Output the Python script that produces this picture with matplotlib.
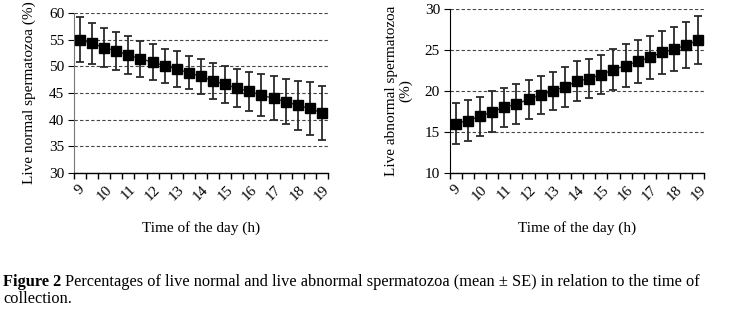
import matplotlib

matplotlib.use("Agg")
import matplotlib.pyplot as plt
import numpy as np
from matplotlib.ticker import FixedLocator

plt.rcParams["font.family"] = ["Liberation Serif", "DejaVu Serif"]

# Time of collection (h), half-hour steps
times = [9, 9.5, 10, 10.5, 11, 11.5, 12, 12.5, 13, 13.5, 14,
         14.5, 15, 15.5, 16, 16.5, 17, 17.5, 18, 18.5, 19]
tick_labels = ["9", "10", "11", "12", "13", "14", "15", "16", "17", "18", "19"]

# Live normal spermatozoa (%), mean and SE
normal_mean = [55.0, 54.3, 53.5, 52.9, 52.1, 51.4, 50.8, 50.1, 49.5, 48.8, 48.1,
               47.3, 46.6, 45.9, 45.3, 44.6, 44.0, 43.4, 42.7, 42.1, 41.3]
normal_se = [4.2, 3.9, 3.7, 3.6, 3.5, 3.4, 3.3, 3.2, 3.3, 3.1, 3.3,
             3.4, 3.5, 3.6, 3.7, 4.0, 4.1, 4.3, 4.6, 4.9, 5.1]

# Live abnormal spermatozoa (%), mean and SE
abnormal_mean = [16.0, 16.4, 16.9, 17.5, 18.0, 18.4, 19.0, 19.5, 20.0, 20.5, 21.2,
                 21.5, 22.0, 22.6, 23.1, 23.6, 24.1, 24.7, 25.1, 25.6, 26.2]
abnormal_se = [2.5, 2.5, 2.4, 2.5, 2.4, 2.4, 2.4, 2.3, 2.3, 2.4, 2.4,
               2.4, 2.4, 2.5, 2.6, 2.6, 2.6, 2.6, 2.7, 2.8, 2.9]

FS = 11
CAP_FS = 11.8


def draw_panel(ax, mean, se, ylim, ylabel, left_color):
    x = np.arange(len(times))
    ax.errorbar(x, mean, yerr=se, fmt="s-", color="#333333", ms=6.5,
                mfc="black", mec="black", ecolor="#2a2a2a", elinewidth=1.3,
                capsize=3.0, capthick=1.3, lw=1.0, zorder=3)
    ax.set_xlim(-0.5, len(times) - 0.5)
    ax.set_ylim(*ylim)
    ax.set_yticks(np.arange(ylim[0], ylim[1] + 1, 5))
    ax.yaxis.grid(True, ls=(0, (3, 2)), color="#444444", lw=0.8)
    ax.set_axisbelow(True)

    # labels every second category, tick marks between categories
    ax.set_xticks(x[::2])
    ax.set_xticklabels(tick_labels, rotation=45, ha="center", va="top")
    ax.xaxis.set_minor_locator(FixedLocator(np.arange(-0.5, len(times), 1.0)))
    ax.tick_params(axis="x", which="major", length=0, pad=7, labelsize=FS)
    ax.tick_params(axis="x", which="minor", length=4, width=1.0, direction="out")
    ax.tick_params(axis="y", length=4, width=0.8, labelsize=FS, pad=3)

    for side in ("top", "right"):
        ax.spines[side].set_visible(False)
    ax.spines["left"].set_color(left_color)
    ax.spines["bottom"].set_color("black")
    ax.spines["bottom"].set_linewidth(1.0)

    ax.set_xlabel("Time of the day (h)", fontsize=FS, labelpad=13)
    ax.set_ylabel(ylabel, fontsize=FS, labelpad=9, linespacing=1.05)


fig = plt.figure(figsize=(7.47, 3.09), dpi=100)
ax1 = fig.add_axes([0.099, 0.44, 0.340, 0.518])
ax2 = fig.add_axes([0.602, 0.44, 0.341, 0.531])

draw_panel(ax1, normal_mean, normal_se, (30, 60), "Live normal spermatozoa (%)", "#777777")
draw_panel(ax2, abnormal_mean, abnormal_se, (10, 30), "Live abnormal spermatozoa\n(%)", "black")

# caption: bold figure number followed by plain text
fig.canvas.draw()
t1 = fig.text(0.004, 0.074, "Figure 2", fontsize=CAP_FS, fontweight="bold")
renderer = fig.canvas.get_renderer()
bb = t1.get_window_extent(renderer)
x_next = (bb.x1 + 4) / fig.bbox.width
fig.text(x_next, 0.074, "Percentages of live normal and live abnormal spermatozoa "
         "(mean \u00b1 SE) in relation to the time of", fontsize=CAP_FS)
fig.text(0.004, 0.02, "collection.", fontsize=CAP_FS)

fig.savefig("out.png", dpi=100)
